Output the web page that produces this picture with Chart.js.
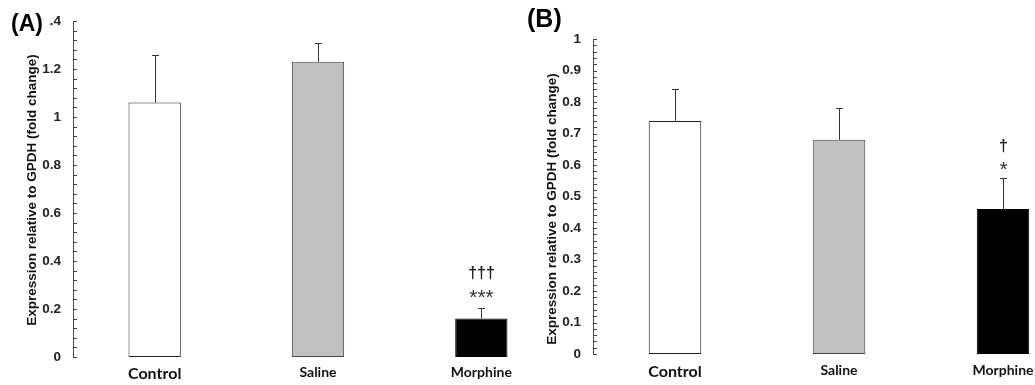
<!DOCTYPE html>
<html>
<head>
<meta charset="utf-8">
<script src="https://cdn.jsdelivr.net/npm/chart.js@4"></script>
<style>
  html, body { margin: 0; padding: 0; background: #fff; overflow: hidden; width: 1035px; height: 385px; }
  #panelA { position: absolute; left: 0; top: 0; }
  #panelB { position: absolute; left: 520px; top: 0; }
</style>
</head>
<body>
<canvas id="panelA" width="563" height="385"></canvas>
<canvas id="panelB" width="565" height="385"></canvas>
<script>
// data
const CATEGORIES = ["Control", "Saline", "Morphine"];
const BAR_COLORS = ["#ffffff", "#c0c0c0", "#000000"];

const MEAN_A = [1.06, 1.23, 0.16];
const ERR_A = [0.20, 0.08, 0.045];
const DAGGERS_A = ["", "", "†††"];
const STARS_A = ["", "", "***"];

const MEAN_B = [0.74, 0.68, 0.46];
const ERR_B = [0.10, 0.10, 0.10];
const DAGGERS_B = ["", "", "†"];
const STARS_B = ["", "", "*"];

const Y_TITLE = "Expression relative to GPDH (fold change)";

// draws inward ticks, error bars, significance marks, y title and panel letter
const decor = {
  id: 'decor',
  afterDraw(chart, args, o) {
    const ctx = chart.ctx;
    const y = chart.scales.y;
    const ax = chart.chartArea.left;
    ctx.save();

    ctx.strokeStyle = '#444';
    ctx.lineWidth = 1;
    const n = Math.round(y.max / o.minor);
    for (let i = 0; i <= n; i++) {
      const py = Math.round(y.getPixelForValue(i * o.minor)) + 0.5;
      ctx.beginPath();
      ctx.moveTo(ax, py);
      ctx.lineTo(ax + 4, py);
      ctx.stroke();
    }

    const meta = chart.getDatasetMeta(0);
    ctx.strokeStyle = '#333';
    o.mean.forEach((v, i) => {
      const px = Math.round(meta.data[i].x) + 0.5;
      const y0 = y.getPixelForValue(v);
      const y1 = Math.round(y.getPixelForValue(v + o.err[i])) + 0.5;
      ctx.beginPath();
      ctx.moveTo(px, y0);
      ctx.lineTo(px, y1);
      ctx.moveTo(px - 3.5, y1);
      ctx.lineTo(px + 3.5, y1);
      ctx.stroke();

      ctx.fillStyle = '#333';
      ctx.textAlign = 'center';
      ctx.textBaseline = 'middle';
      ctx.font = '21px "Liberation Sans", Arial';
      if (o.stars[i]) ctx.fillText(o.stars[i], px, y1 - o.starGap + 5);
      ctx.fillStyle = '#222';
      ctx.font = 'bold 16px "Liberation Sans", Arial';
      if (o.daggers[i]) ctx.fillText(o.daggers[i], px, y1 - o.daggerGap);
    });

    ctx.fillStyle = '#111';
    ctx.font = 'bold 13.5px "Liberation Sans", Arial';
    ctx.textAlign = 'center';
    ctx.textBaseline = 'middle';
    ctx.save();
    ctx.translate(o.titleX, o.titleY);
    ctx.rotate(-Math.PI / 2);
    ctx.fillText(Y_TITLE, 0, 0);
    ctx.restore();

    ctx.fillStyle = '#fff';
    ctx.fillRect(o.letterBox[0], o.letterBox[1], o.letterBox[2], o.letterBox[3]);
    ctx.fillStyle = '#000';
    ctx.font = 'bold ' + o.letterSize + 'px "Liberation Sans", Arial';
    ctx.textAlign = 'left';
    ctx.textBaseline = 'middle';
    ctx.fillText(o.letter, o.letterX, o.letterY);
    ctx.restore();
  }
};

function makePanel(id, mean, err, daggers, stars, yMax, yStep, cfg) {
  return new Chart(id, {
    type: 'bar',
    data: {
      labels: CATEGORIES,
      datasets: [{
        data: mean,
        backgroundColor: BAR_COLORS,
        borderColor: ["#222", "#444", "#000"],
        borderWidth: 1,
        borderSkipped: false,
        categoryPercentage: 1,
        barPercentage: 0.32
      }]
    },
    options: {
      responsive: false,
      animation: false,
      events: [],
      layout: { padding: { top: cfg.top, left: 0, right: 0, bottom: 0 } },
      plugins: {
        legend: { display: false },
        tooltip: { enabled: false },
        decor: {
          mean: mean, err: err, daggers: daggers, stars: stars,
          minor: cfg.minor, starGap: cfg.starGap, daggerGap: cfg.daggerGap,
          titleX: 32, titleY: cfg.titleY,
          letter: cfg.letter, letterX: cfg.letterX, letterY: cfg.letterY,
          letterSize: cfg.letterSize, letterBox: cfg.letterBox
        }
      },
      scales: {
        x: {
          grid: { display: false, drawTicks: false },
          border: { display: false },
          afterFit: (s) => { s.height = cfg.xHeight; },
          ticks: {
            color: '#111',
            padding: cfg.xPad,
            font: (c) => ({ family: 'Lato', weight: 'bold', size: c.index === 0 ? 16 : 14 })
          }
        },
        y: {
          min: 0,
          max: yMax,
          grid: { display: false, drawTicks: false },
          border: { display: true, color: '#444', width: 1 },
          afterFit: (s) => { s.width = 73; },
          ticks: {
            stepSize: yStep,
            padding: 12,
            color: '#222',
            font: { family: '"Liberation Sans", Arial', weight: 'bold', size: 13.5 },
            callback: (v) => String(+v.toFixed(1))
          }
        }
      }
    },
    plugins: [decor]
  });
}

makePanel('panelA', MEAN_A, ERR_A, DAGGERS_A, STARS_A, 1.4, 0.2, {
  top: 21, xHeight: 28, xPad: 7, minor: 0.04, starGap: 15, daggerGap: 35,
  titleY: 190, letter: '(A)', letterX: 11, letterY: 25, letterSize: 23,
  letterBox: [8, 8, 41, 32]
});

makePanel('panelB', MEAN_B, ERR_B, DAGGERS_B, STARS_B, 1, 0.1, {
  top: 39, xHeight: 31, xPad: 8, minor: 0.02, starGap: 13, daggerGap: 32,
  titleY: 209, letter: '(B)', letterX: 7, letterY: 20, letterSize: 25,
  letterBox: [0, 0, 0, 0]
});
</script>
</body>
</html>
